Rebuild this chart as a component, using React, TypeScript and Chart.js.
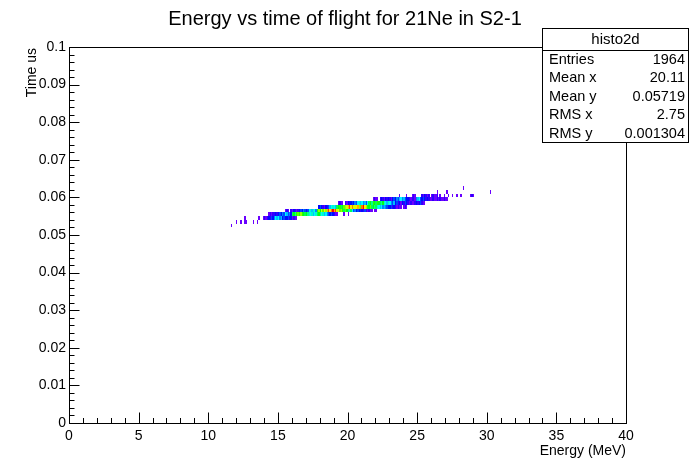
import React, { useEffect, useRef } from 'react';
import { Chart, registerables } from 'chart.js';

Chart.register(...registerables);

const FONT = '"Liberation Sans", Arial, sans-serif';

const chartTitle = 'Energy vs time of flight for 21Ne in S2-1';
const xAxisTitle = 'Energy (MeV)';
const yAxisTitle = 'Time us';
const xTickLabels = ['0', '5', '10', '15', '20', '25', '30', '35', '40'];
const yTickLabels = ['0', '0.01', '0.02', '0.03', '0.04', '0.05', '0.06', '0.07', '0.08', '0.09', '0.1'];

const statsTitle = 'histo2d';
const statsLabels = ['Entries', 'Mean x', 'Mean y', 'RMS x', 'RMS y'];
const statsValues = ['1964', '20.11', '0.05719', '2.75', '0.001304'];

// histogram binning (Energy 0.1 MeV bins, Time 0.001 us bins)
const xBinWidth = 0.1;
const yBinWidth = 0.001;
const maxCount = 20;

// lower edge of each time bin that has entries
const rowY = [0.052, 0.053, 0.054, 0.055, 0.056, 0.057, 0.058, 0.059, 0.06, 0.061, 0.062];

// each row: list of [first energy bin index, counts...]
const row052 = [[116, [1]]];
const row053 = [[120, [1]], [123, [1]], [126, [1, 1]], [132, [1]], [135, [1]]];
const row054 = [[126, [1]], [136, [1]], [139, [1, 2, 1, 2, 3, 2, 4, 3, 5, 7, 6, 7, 5, 6, 3, 4, 3, 3, 4, 2, 3, 1, 2, 1, 1]]];
const row055 = [
  [143, [1, 2, 1, 2, 2, 3, 2, 3, 4, 3, 5, 4, 7, 6, 4, 5, 3, 10, 11, 9, 12, 13, 12, 14, 12, 11, 10, 11, 9, 8, 7, 8, 6, 7, 8, 10, 11, 9, 7, 8, 6, 7, 5, 4, 3, 4, 3, 2, 1, 1]],
  [197, [1]],
  [200, [1]],
];
const row056 = [
  [155, [1, 2, 1]],
  [159, [2, 1, 3, 2, 1, 2, 3, 4, 3, 5, 4, 3, 4, 7, 8, 6, 8, 7, 5, 12, 14, 11, 15, 13, 16, 14, 17, 19, 16, 18, 20, 17, 19, 15, 16, 13, 14, 12, 10, 13, 11, 9, 8, 10, 7, 4, 5, 3, 4, 3, 2, 3, 2, 4, 2, 1, 2, 1]],
  [217, [1]],
  [219, [1, 1]],
];
const row057 = [
  [179, [3, 4, 3, 2, 1, 3, 2, 4, 6, 7, 8, 7, 6, 10, 11, 12, 10, 11, 13, 14, 15, 17, 19, 16, 18, 15, 15, 16, 17, 14, 13, 18, 20, 16, 14, 12, 11, 13, 10, 11, 9, 10, 8, 7, 6, 7, 5, 6, 5, 4, 3, 3, 4, 2, 3, 2, 1, 2, 1, 1]],
  [240, [1, 2, 1]],
];
const row058 = [
  [193, [1, 2, 1, 1]],
  [198, [2, 1, 3, 2, 3, 4, 3, 5, 4, 7, 8, 6, 7, 5, 6, 4, 7, 10, 11, 9, 12, 11, 10, 12, 11, 10, 9, 11, 8, 7, 6, 8, 7, 5, 4, 6, 3, 4, 2, 3, 1, 3, 2, 4, 3, 2, 1, 2, 1, 1, 2, 3, 2, 3, 4, 2, 1, 1]],
];
const row059 = [
  [218, [1, 2, 1, 1]],
  [223, [2, 3, 2, 1, 3, 2, 3, 2, 1, 3, 4, 3, 5, 4, 6, 7, 5, 6, 4, 3, 3, 2, 1, 2, 2, 1, 5, 6, 7, 4, 3, 4, 3, 2, 3, 2, 1, 1, 2, 1, 1, 2, 1, 2, 1, 1, 2, 1, 1]],
];
const row060 = [
  [237, [1]], [242, [1]], [246, [1, 2, 1]], [253, [2, 1, 3, 2, 1, 2]], [260, [1, 2, 1, 1, 2]],
  [266, [1]], [269, [1]], [272, [1]], [275, [1]], [278, [1]], [281, [1]], [288, [1, 2, 1]],
];
const row061 = [[264, [1]], [271, [1]], [302, [1]]];
const row062 = [[283, [1]]];

const rows = [row052, row053, row054, row055, row056, row057, row058, row059, row060, row061, row062];

type Cell = { x: number; y: number; c: number };

function buildCells(): Cell[] {
  const cells: Cell[] = [];
  rows.forEach((row, i) => {
    (row as any[]).forEach(([start, counts]: [number, number[]]) => {
      counts.forEach((c, j) => {
        if (c > 0) cells.push({ x: (start + j) * xBinWidth, y: rowY[i], c });
      });
    });
  });
  return cells;
}

function paletteColor(c: number): string {
  const f = Math.min(1, Math.max(0, (c - 1) / (maxCount - 1)));
  const hue = 265 * (1 - f);
  return `hsl(${hue.toFixed(1)}, 100%, 50%)`;
}

const cellPlugin = {
  id: 'cells',
  beforeDatasetsDraw(chart: any) {
    const ctx = chart.ctx;
    const xs = chart.scales.x;
    const ys = chart.scales.y;
    const data = chart.data.datasets[0].data as Cell[];
    ctx.save();
    for (const d of data) {
      const l = Math.round(xs.getPixelForValue(d.x));
      let r = Math.round(xs.getPixelForValue(d.x + xBinWidth));
      const t = Math.round(ys.getPixelForValue(d.y + yBinWidth));
      let b = Math.round(ys.getPixelForValue(d.y));
      if (r <= l) r = l + 1;
      if (b <= t) b = t + 1;
      ctx.fillStyle = paletteColor(d.c);
      ctx.fillRect(l, t, r - l, b - t);
    }
    ctx.restore();
  },
};

const decorPlugin = {
  id: 'decor',
  afterDraw(chart: any) {
    const ctx = chart.ctx;
    const xs = chart.scales.x;
    const ys = chart.scales.y;
    const a = chart.chartArea;
    ctx.save();
    ctx.strokeStyle = '#000';
    ctx.lineWidth = 1;
    // frame
    ctx.strokeRect(a.left + 0.5, a.top + 0.5, a.right - a.left, a.bottom - a.top);
    // x ticks (inward)
    ctx.beginPath();
    for (let i = 0; i <= 40; i++) {
      const px = Math.round(xs.getPixelForValue(i)) + 0.5;
      const len = i % 5 === 0 ? 11 : 5.5;
      ctx.moveTo(px, a.bottom + 0.5);
      ctx.lineTo(px, a.bottom + 0.5 - len);
    }
    // y ticks (inward)
    for (let i = 0; i <= 50; i++) {
      const py = Math.round(ys.getPixelForValue(i * 0.002)) + 0.5;
      const len = i % 5 === 0 ? 10 : 5;
      ctx.moveTo(a.left + 0.5, py);
      ctx.lineTo(a.left + 0.5 + len, py);
    }
    ctx.stroke();

    ctx.fillStyle = '#000';
    // title
    ctx.font = `20px ${FONT}`;
    ctx.textAlign = 'center';
    ctx.textBaseline = 'middle';
    ctx.fillText(chartTitle, 345, 19);
    // axis titles
    ctx.font = `14px ${FONT}`;
    ctx.textAlign = 'right';
    ctx.fillText(xAxisTitle, a.right, 451);
    ctx.save();
    ctx.translate(32, a.top + 1);
    ctx.rotate(-Math.PI / 2);
    ctx.textAlign = 'right';
    ctx.fillText(yAxisTitle, 0, 0);
    ctx.restore();

    // stats box
    const bx = 542.5, by = 28.5, bw = 146, bh = 114;
    ctx.fillStyle = '#fff';
    ctx.fillRect(bx, by, bw, bh);
    ctx.strokeRect(bx, by, bw, bh);
    ctx.beginPath();
    ctx.moveTo(bx, 50.5);
    ctx.lineTo(bx + bw, 50.5);
    ctx.stroke();
    ctx.fillStyle = '#000';
    ctx.font = `15px ${FONT}`;
    ctx.textAlign = 'center';
    ctx.fillText(statsTitle, bx + bw / 2, 40);
    ctx.font = `14.5px ${FONT}`;
    statsLabels.forEach((lab, i) => {
      const y = 60 + i * 18.4;
      ctx.textAlign = 'left';
      ctx.fillText(lab, 549, y);
      ctx.textAlign = 'right';
      ctx.fillText(statsValues[i], 685, y);
    });
    ctx.restore();
  },
};

function labelFor(list: string[], v: number): string {
  const found = list.find((l) => Math.abs(parseFloat(l) - v) < 1e-9);
  return found ?? '';
}

export default function App() {
  const ref = useRef<HTMLCanvasElement>(null);
  useEffect(() => {
    const cells = buildCells();
    const chart = new Chart(ref.current as HTMLCanvasElement, {
      type: 'scatter',
      data: {
        datasets: [
          {
            data: cells as any,
            pointRadius: 0,
            showLine: false,
          },
        ],
      },
      options: {
        responsive: false,
        devicePixelRatio: 1,
        animation: false,
        events: [],
        layout: { padding: { left: 0, right: 70, top: 47, bottom: 0 } },
        plugins: { legend: { display: false }, tooltip: { enabled: false }, title: { display: false } },
        scales: {
          x: {
            type: 'linear',
            position: 'bottom',
            min: 0,
            max: 40,
            grid: { display: false, drawTicks: false },
            border: { display: false },
            ticks: {
              stepSize: 5,
              autoSkip: false,
              maxRotation: 0,
              padding: 5,
              color: '#000',
              font: { family: FONT, size: 14 },
              callback: (v: any) => labelFor(xTickLabels, Number(v)),
            },
            afterFit: (s: any) => {
              s.height = 49;
            },
          },
          y: {
            type: 'linear',
            position: 'left',
            min: 0,
            max: 0.1,
            grid: { display: false, drawTicks: false },
            border: { display: false },
            ticks: {
              stepSize: 0.01,
              autoSkip: false,
              padding: 3,
              color: '#000',
              font: { family: FONT, size: 14 },
              callback: (v: any) => labelFor(yTickLabels, Number(v)),
            },
            afterFit: (s: any) => {
              s.width = 69;
            },
          },
        },
      },
      plugins: [cellPlugin, decorPlugin],
    });
    return () => chart.destroy();
  }, []);
  return (
    <div style={{ position: 'absolute', left: 0, top: 0, width: 696, height: 472, background: '#fff' }}>
      <canvas ref={ref} width={696} height={472} style={{ display: 'block', width: 696, height: 472 }} />
    </div>
  );
}
